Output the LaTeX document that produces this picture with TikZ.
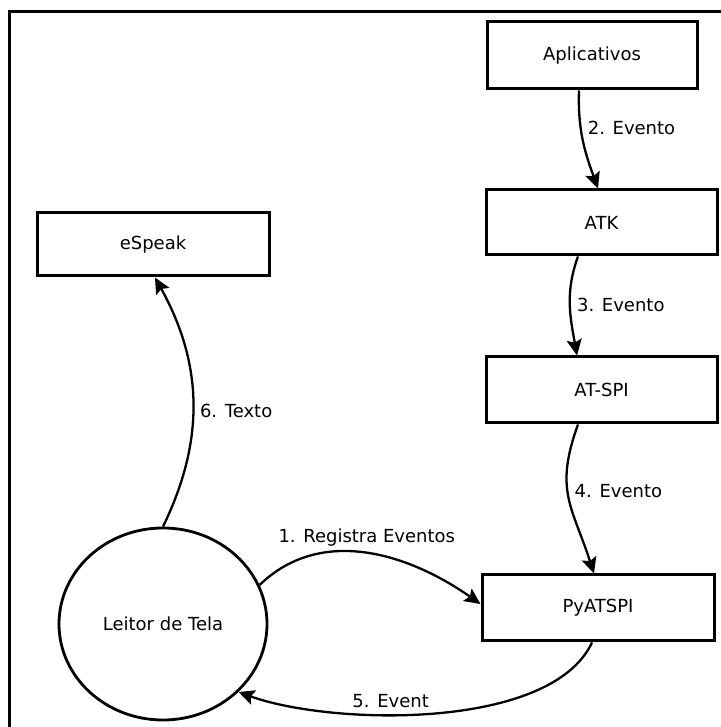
\documentclass[tikz,border=0pt]{standalone}
\usepackage{fontspec}
\setmainfont{DejaVu Sans}
\usetikzlibrary{arrows.meta,shapes.geometric}
\tikzset{
  box/.style={draw, line width=3pt, minimum width=231pt, minimum height=65pt, inner sep=0pt, font=\fontsize{18}{21}\selectfont},
  circ/.style={draw, ellipse, line width=2.8pt, minimum width=208pt, minimum height=192pt, inner sep=0pt, font=\fontsize{18}{21}\selectfont},
  arr/.style={line width=2.3pt, -{Stealth[length=16pt, width=15pt, inset=3pt]}},
  lbl/.style={font=\fontsize{18}{21}\selectfont, inner sep=6pt},
  frame/.style={line width=3pt}
}
\begin{document}
\begin{tikzpicture}[x=1pt,y=1pt]
\useasboundingbox (0,0) rectangle (720,727);
\coordinate (fb) at (9,-5);
\coordinate (ftl) at (9,715);
\coordinate (fr) at (730,715);
\draw[frame] (fb) -- (ftl) -- (fr);

\node[box, minimum width=210pt, minimum height=67pt] (apl) at (592,671.5) {Aplicativos};
\node[box] (atk) at (601.5,504.5) {ATK};
\node[box, minimum height=66pt] (atspi) at (601.5,337) {AT-SPI};
\node[box, minimum width=232pt, minimum height=66pt] (py) at (598,119) {PyATSPI};
\node[box, minimum width=232pt, minimum height=63pt] (esp) at (153,482.5) {eSpeak};
\node[circ] (leitor) at (163,103) {Leitor de Tela};

\draw[arr] ([xshift=-13pt]apl.south) to[out=-92,in=110] node[lbl,pos=0.36,right]{2. Evento} ([xshift=-3.5pt]atk.north);
\draw[arr] ([xshift=-23.5pt]atk.south) to[out=-110,in=100] node[lbl,pos=0.5,right]{3. Evento} ([xshift=-24.5pt]atspi.north);
\draw[arr] ([xshift=-23.5pt]atspi.south) to[out=-110,in=108,looseness=1.2] node[lbl,pos=0.44,right]{4. Evento} ([xshift=-4pt]py.north);
\draw[arr] (leitor.22) to[out=44,in=145] node[lbl,pos=0.5,above]{1. Registra Eventos} ([yshift=4pt]py.west);
\draw[arr] ([xshift=-6pt]py.south) to[out=-115,in=-20,looseness=0.7] node[lbl,pos=0.6,above]{5. Event} (leitor.-42);
\draw[arr] (leitor.north) to[out=64,in=-61] node[lbl,pos=0.46,right]{6. Texto} ([xshift=2pt]esp.south);
\end{tikzpicture}
\end{document}
